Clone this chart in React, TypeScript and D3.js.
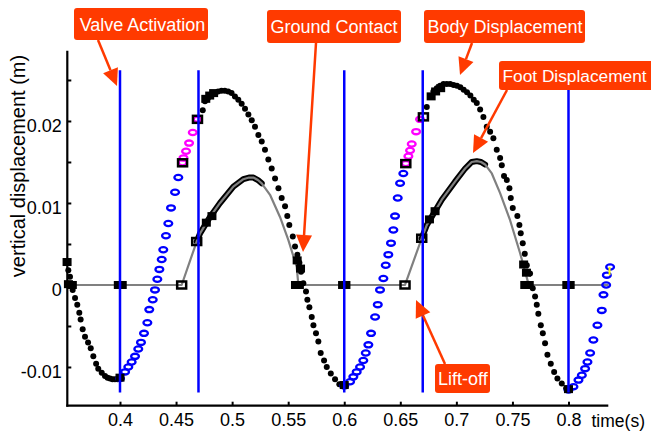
import React, { useEffect, useRef } from "react";
import * as d3 from "d3";

// body displacement [time (s), vertical displacement (m)], black dots
const bodyDots: [number, number][] = [
  [0.3539, 0.0018], [0.3554, 0.0010], [0.3578, -0.0006], [0.3599, -0.0016], [0.3619, -0.0024],
  [0.3637, -0.0034], [0.3649, -0.0042], [0.3667, -0.0054], [0.3688, -0.0063], [0.3715, -0.0070],
  [0.3739, -0.0077], [0.3762, -0.0087], [0.3787, -0.0096], [0.3806, -0.0102], [0.3837, -0.0107],
  [0.3866, -0.0111], [0.3889, -0.0113], [0.3911, -0.0114], [0.3933, -0.0115], [0.3955, -0.0115],
  [0.3978, -0.0115], [0.3994, -0.0114],
  [0.4738, 0.0213], [0.4758, 0.0224], [0.4785, 0.0228], [0.4815, 0.0231], [0.4845, 0.0234],
  [0.4875, 0.0236], [0.4905, 0.0237], [0.4935, 0.0237], [0.4965, 0.0236], [0.4995, 0.0234],
  [0.5025, 0.0230], [0.5055, 0.0226], [0.5085, 0.0221], [0.5115, 0.0215], [0.5145, 0.0208],
  [0.5175, 0.0201], [0.5204, 0.0193], [0.5234, 0.0183], [0.5264, 0.0175], [0.5293, 0.0165],
  [0.5323, 0.0153], [0.5353, 0.0142], [0.5383, 0.0130], [0.5413, 0.0118], [0.5442, 0.0106],
  [0.5472, 0.0096], [0.5492, 0.0084], [0.5510, 0.0073], [0.5541, 0.0059], [0.5561, 0.0047],
  [0.5582, 0.0037], [0.5600, 0.0027], [0.5615, 0.0016], [0.5635, 0.0002], [0.5659, -0.0008],
  [0.5671, -0.0018], [0.5689, -0.0027], [0.5710, -0.0039], [0.5725, -0.0049], [0.5748, -0.0059],
  [0.5769, -0.0069], [0.5790, -0.0083], [0.5820, -0.0092], [0.5844, -0.0100], [0.5880, -0.0108],
  [0.5918, -0.0115], [0.5956, -0.0121], [0.5992, -0.0123],
  [0.6736, 0.0217], [0.6765, 0.0230], [0.6795, 0.0236], [0.6825, 0.0240], [0.6855, 0.0243],
  [0.6885, 0.0245], [0.6915, 0.0245], [0.6945, 0.0245], [0.6975, 0.0244], [0.7005, 0.0243],
  [0.7035, 0.0241], [0.7065, 0.0238], [0.7095, 0.0235], [0.7125, 0.0231], [0.7155, 0.0226],
  [0.7182, 0.0222], [0.7212, 0.0214], [0.7241, 0.0205], [0.7271, 0.0193], [0.7301, 0.0187],
  [0.7330, 0.0179], [0.7360, 0.0165], [0.7390, 0.0155], [0.7405, 0.0146], [0.7425, 0.0133],
  [0.7450, 0.0128], [0.7473, 0.0118], [0.7485, 0.0106], [0.7503, 0.0094], [0.7544, 0.0084],
  [0.7562, 0.0073], [0.7574, 0.0063], [0.7592, 0.0051], [0.7610, 0.0038], [0.7628, 0.0024],
  [0.7657, 0.0014], [0.7681, -0.0004], [0.7702, -0.0014], [0.7717, -0.0024], [0.7731, -0.0035],
  [0.7753, -0.0049], [0.7771, -0.0059], [0.7791, -0.0071], [0.7812, -0.0085], [0.7842, -0.0096],
  [0.7872, -0.0106], [0.7901, -0.0114], [0.7940, -0.0120], [0.7979, -0.0126], [0.8000, -0.0128],
];

// body displacement while rising, blue circles
const bodyBlue: [number, number][] = [
  [0.4000, -0.0114], [0.4045, -0.0106], [0.4074, -0.0100], [0.4104, -0.0094], [0.4134, -0.0087],
  [0.4163, -0.0078], [0.4187, -0.0070], [0.4214, -0.0059], [0.4244, -0.0046], [0.4261, -0.0030],
  [0.4292, -0.0018], [0.4312, -0.0006], [0.4333, 0.0007], [0.4351, 0.0019], [0.4372, 0.0031],
  [0.4386, 0.0043], [0.4410, 0.0060], [0.4431, 0.0075], [0.4455, 0.0094], [0.4491, 0.0113],
  [0.4520, 0.0131],
  [0.6000, -0.0123], [0.6052, -0.0118], [0.6081, -0.0112], [0.6111, -0.0106], [0.6141, -0.0100],
  [0.6170, -0.0092], [0.6192, -0.0083], [0.6215, -0.0073], [0.6239, -0.0059], [0.6275, -0.0039],
  [0.6299, -0.0024], [0.6319, -0.0006], [0.6349, 0.0008], [0.6370, 0.0024], [0.6393, 0.0037],
  [0.6417, 0.0051], [0.6438, 0.0067], [0.6453, 0.0084], [0.6477, 0.0106], [0.6498, 0.0124],
  [0.6527, 0.0136],
  [0.8000, -0.0128], [0.8044, -0.0124], [0.8089, -0.0116], [0.8119, -0.0110], [0.8148, -0.0102],
  [0.8169, -0.0094], [0.8193, -0.0083], [0.8222, -0.0067], [0.8258, -0.0049], [0.8297, -0.0031],
  [0.8312, -0.0012], [0.8336, 0.0000], [0.8342, 0.0012], [0.8371, 0.0022],
];

// body displacement just before lift-off, magenta circles
const bodyMagenta: [number, number][] = [
  [0.4558, 0.0149], [0.4566, 0.0155], [0.4589, 0.0163], [0.4616, 0.0173], [0.4649, 0.0186], [0.4691, 0.0202],
  [0.6549, 0.0148], [0.6572, 0.0157], [0.6587, 0.0164], [0.6602, 0.0172], [0.6641, 0.0187], [0.6676, 0.0202],
];

const yellowMark: [number, number][] = [[0.8366, 0.0012], [0.8366, 0.0022]];

// foot displacement (grey line)
const footLine: [number, number][] = [
  [0.3530, 0], [0.4550, 0], [0.4684, 0.0053], [0.4714, 0.0063], [0.4803, 0.0083], [0.4892, 0.0100],
  [0.5011, 0.0120], [0.5100, 0.0129], [0.5150, 0.0131], [0.5190, 0.0131], [0.5230, 0.0128],
  [0.5264, 0.0124], [0.5338, 0.0110], [0.5427, 0.0083], [0.5501, 0.0055], [0.5576, 0.0022],
  [0.5591, 0], [0.6542, 0], [0.6691, 0.0057], [0.6736, 0.0073], [0.6870, 0.0104], [0.6988, 0.0126],
  [0.7078, 0.0142], [0.7137, 0.0150], [0.7182, 0.0151], [0.7220, 0.0150], [0.7256, 0.0147],
  [0.7316, 0.0136], [0.7390, 0.0112], [0.7479, 0.0079], [0.7568, 0.0039], [0.7642, 0.0002],
  [0.7650, 0], [0.8357, 0],
];
// time spans where the foot samples show as black under the grey line
const footBlackSpans: [number, number][] = [[0.4684, 0.5300], [0.6691, 0.7300]];

const openSquares: [number, number][] = [
  [0.4550, 0], [0.4684, 0.0053], [0.4558, 0.0149], [0.4691, 0.0202],
  [0.6542, 0], [0.6691, 0.0057], [0.6549, 0.0148], [0.6706, 0.0205],
];
const filledSquares: [number, number][] = [
  [0.3528, 0.0028], [0.3540, 0.0001], [0.3575, 0.0], [0.3985, 0], [0.4020, 0], [0.4000, -0.0113],
  [0.4765, 0.0227], [0.4800, 0.0231], [0.4835, 0.0234], [0.4770, 0.0076], [0.4820, 0.0084],
  [0.5580, 0.0030], [0.5610, 0.0020], [0.5565, 0.0], [0.5600, 0.0], [0.5985, 0], [0.6015, 0], [0.6000, -0.0122],
  [0.6775, 0.0230], [0.6815, 0.0236], [0.6860, 0.0240], [0.6760, 0.0080], [0.6810, 0.0090],
  [0.7600, 0.0025], [0.7625, 0.0015], [0.7610, 0.0], [0.7650, 0.0], [0.7985, 0], [0.8015, 0], [0.8000, -0.0127],
];

const eventTimes = [0.4, 0.47, 0.6, 0.67, 0.8];
const eventSpan = [-0.0131, 0.0262];

const xTicks = [0.4, 0.45, 0.5, 0.55, 0.6, 0.65, 0.7, 0.75, 0.8];
const xTickLabels = ["0.4", "0.45", "0.5", "0.55", "0.6", "0.65", "0.7", "0.75", "0.8"];
const yTicks = [-0.01, -0.005, 0, 0.005, 0.01, 0.015, 0.02, 0.025];
const yTickLabels = ["-0.01", "", "0", "", "0.01", "", "0.02", ""];

// callout boxes and arrows (page layout, pixels)
const notes = [
  { text: "Valve Activation", box: [74, 8, 134, 32], tx: 142.5, ty: 31, anchor: "middle", size: 18, from: [98, 40], to: [117, 86] },
  { text: "Ground Contact", box: [267, 10, 134, 33], tx: 334, ty: 33, anchor: "middle", size: 18, from: [316, 43], to: [303, 252] },
  { text: "Body Displacement", box: [424, 10, 161, 33], tx: 505, ty: 33, anchor: "middle", size: 18, from: [472, 43], to: [460, 75] },
  { text: "Foot Displacement", box: [499, 61, 155, 29], tx: 502.5, ty: 81.5, anchor: "start", size: 17.3, from: [507, 90], to: [473, 153] },
  { text: "Lift-off", box: [435, 364, 55, 29], tx: 462.8, ty: 385, anchor: "middle", size: 18, from: [445, 364], to: [416, 300] },
];

const FONT = "'Liberation Sans', Arial, sans-serif";
const RED = "#ff3a00";

export default function App() {
  const ref = useRef<SVGSVGElement>(null);

  useEffect(() => {
    const width = 651;
    const height = 432;
    const svg = d3.select(ref.current).attr("width", width).attr("height", height);
    svg.selectAll("*").remove();

    const x = d3.scaleLinear().domain([0.353, 0.8355]).range([67.3, 608.3]);
    const y = d3.scaleLinear().domain([-0.01472, 0.02857]).range([405.7, 50.7]);

    svg.append("rect").attr("width", width).attr("height", height).attr("fill", "white");

    // foot: black samples under grey line
    const line = d3.line<[number, number]>().x(d => x(d[0])).y(d => y(d[1]));
    footBlackSpans.forEach(([a, b]) => {
      svg.append("path")
        .datum(footLine.filter(d => d[0] >= a && d[0] <= b))
        .attr("d", line)
        .attr("fill", "none")
        .attr("stroke", "black")
        .attr("stroke-width", 6)
        .attr("stroke-linejoin", "round")
        .attr("stroke-linecap", "round");
    });
    svg.append("path")
      .datum(footLine)
      .attr("d", line)
      .attr("fill", "none")
      .attr("stroke", "#808080")
      .attr("stroke-width", 2.2)
      .attr("stroke-linejoin", "round");

    // body dots
    svg.append("g").selectAll("circle")
      .data(bodyDots)
      .enter()
      .append("circle")
      .attr("cx", d => x(d[0]))
      .attr("cy", d => y(d[1]))
      .attr("r", 3)
      .attr("fill", "black");

    const ellipses = (data: [number, number][], color: string) => {
      svg.append("g").selectAll("ellipse")
        .data(data)
        .enter()
        .append("ellipse")
        .attr("cx", d => x(d[0]))
        .attr("cy", d => y(d[1]))
        .attr("rx", 3.9)
        .attr("ry", 2.6)
        .attr("fill", "none")
        .attr("stroke", color)
        .attr("stroke-width", 2.3);
    };
    ellipses(bodyBlue, "#0000ff");
    ellipses(bodyMagenta, "#ff00ff");

    svg.append("path")
      .datum(yellowMark)
      .attr("d", line)
      .attr("stroke", "#ffff00")
      .attr("stroke-width", 2);

    // squares
    svg.append("g").selectAll("rect")
      .data(filledSquares)
      .enter()
      .append("rect")
      .attr("x", d => x(d[0]) - 4.5)
      .attr("y", d => y(d[1]) - 4)
      .attr("width", 9)
      .attr("height", 8)
      .attr("fill", "black");
    svg.append("g").selectAll("rect")
      .data(openSquares)
      .enter()
      .append("rect")
      .attr("x", d => x(d[0]) - 4.5)
      .attr("y", d => y(d[1]) - 3.5)
      .attr("width", 9)
      .attr("height", 7)
      .attr("fill", "none")
      .attr("stroke", "black")
      .attr("stroke-width", 2.5);

    // event lines
    svg.append("g").selectAll("line")
      .data(eventTimes)
      .enter()
      .append("line")
      .attr("x1", d => x(d))
      .attr("x2", d => x(d))
      .attr("y1", y(eventSpan[1]))
      .attr("y2", y(eventSpan[0]))
      .attr("stroke", "#0000ff")
      .attr("stroke-width", 2.5);

    // X axis
    const gx = svg.append("g")
      .attr("transform", `translate(0, ${y.range()[0]})`)
      .call(d3.axisBottom(x).tickValues(xTicks).tickFormat((d, i) => xTickLabels[i])
        .tickSizeInner(-4).tickSizeOuter(0).tickPadding(8));
    // Y axis
    const gy = svg.append("g")
      .attr("transform", `translate(${x.range()[0]}, 0)`)
      .call(d3.axisLeft(y).tickValues(yTicks).tickFormat((d, i) => yTickLabels[i])
        .tickSizeInner(-4).tickSizeOuter(0).tickPadding(5.5));
    [gx, gy].forEach(g => {
      g.attr("font-family", FONT).attr("font-size", 18);
      g.select(".domain").attr("stroke-width", 2.2);
      g.selectAll(".tick line").attr("stroke-width", 2);
      g.selectAll("text").attr("fill", "black");
    });
    gy.selectAll("text").attr("dy", "0.6em");
    gy.select(".domain").attr("d", `M0,${y.range()[1]}V${y.range()[0] + 1}`);
    gx.select(".domain").attr("d", `M${x.range()[0] - 1},0H${x.range()[1]}`);

    // axis labels
    svg.append("text")
      .attr("x", 591.5)
      .attr("y", 426.5)
      .attr("font-family", FONT)
      .attr("font-size", 17.5)
      .text("time(s)");
    svg.append("text")
      .attr("text-anchor", "middle")
      .attr("transform", "translate(25, 166) rotate(-90)")
      .attr("font-family", FONT)
      .attr("font-size", 20)
      .text("vertical displacement (m)");

    // callouts
    notes.forEach(n => {
      svg.append("rect")
        .attr("x", n.box[0]).attr("y", n.box[1])
        .attr("width", n.box[2]).attr("height", n.box[3])
        .attr("rx", 3)
        .attr("fill", RED);
      svg.append("text")
        .attr("x", n.tx).attr("y", n.ty)
        .attr("text-anchor", n.anchor)
        .attr("font-family", FONT)
        .attr("font-size", n.size)
        .attr("fill", "white")
        .text(n.text);
      const [x1, y1] = n.from;
      const [x2, y2] = n.to;
      const len = Math.hypot(x2 - x1, y2 - y1);
      const ux = (x2 - x1) / len, uy = (y2 - y1) / len;
      const L = 17, W = 8;
      const bx = x2 - ux * L, by = y2 - uy * L;
      svg.append("line")
        .attr("x1", x1).attr("y1", y1)
        .attr("x2", bx).attr("y2", by)
        .attr("stroke", RED)
        .attr("stroke-width", 2.5);
      svg.append("polygon")
        .attr("points", `${x2},${y2} ${bx - uy * W},${by + ux * W} ${bx + uy * W},${by - ux * W}`)
        .attr("fill", RED);
    });
  }, []);

  return <svg ref={ref} style={{ position: "absolute", left: 0, top: 0 }}></svg>;
}
